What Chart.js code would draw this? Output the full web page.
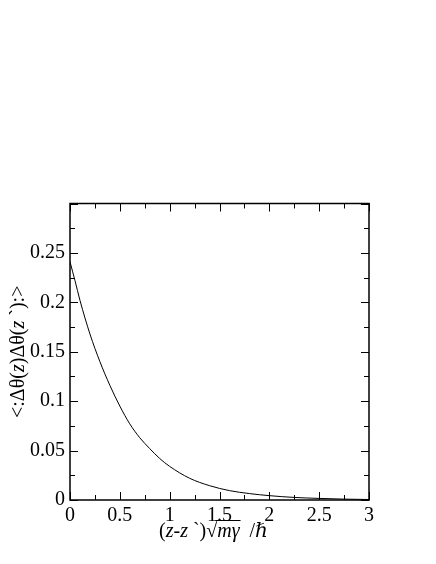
<!DOCTYPE html>
<html>
<head>
<meta charset="utf-8">
<script src="https://cdn.jsdelivr.net/npm/chart.js@4/dist/chart.umd.min.js"></script>
<style>
  html, body { margin: 0; padding: 0; background: #fff; }
  #wrap { width: 436px; height: 564px; }
</style>
</head>
<body>
<div id="wrap"><canvas id="myChart" width="436" height="564"></canvas></div>
<script>
// values
const zValues = [0, 0.05, 0.1, 0.2, 0.3, 0.4, 0.5, 0.6, 0.7, 0.8, 0.9, 1.0, 1.2, 1.4, 1.6, 1.8, 2.0, 2.25, 2.5, 2.75, 3.0];
const corrValues = [0.241, 0.222, 0.202, 0.168, 0.140, 0.116, 0.095, 0.077, 0.063, 0.052, 0.042, 0.034, 0.022, 0.0145, 0.0095, 0.0065, 0.0044, 0.0026, 0.0016, 0.0009, 0.0005];
const xTicks = [0, 0.5, 1, 1.5, 2, 2.5, 3];
const yTicks = [0, 0.05, 0.1, 0.15, 0.2, 0.25];

const serif = '"Liberation Serif", "DejaVu Serif", serif';

// draws frame, inward ticks (major + minor, all four sides) and the axis titles
const framePlugin = {
  id: 'frame',
  afterDraw(chart) {
    const ctx = chart.ctx;
    const a = chart.chartArea;
    const xs = chart.scales.x, ys = chart.scales.y;
    ctx.save();
    ctx.strokeStyle = '#000';
    ctx.lineWidth = 1;
    for (let v = 0; v <= 3.0001; v += 0.25) {
      const px = Math.round(xs.getPixelForValue(v)) + 0.5;
      const len = (Math.round(v * 4) % 2 === 0) ? 8 : 5;
      ctx.beginPath();
      ctx.moveTo(px, a.bottom); ctx.lineTo(px, a.bottom - len);
      ctx.moveTo(px, a.top); ctx.lineTo(px, a.top + len);
      ctx.stroke();
    }
    for (let v = 0; v <= 0.3001; v += 0.025) {
      const py = Math.round(ys.getPixelForValue(v)) + 0.5;
      const len = (Math.round(v * 40) % 2 === 0) ? 8 : 5;
      ctx.beginPath();
      ctx.moveTo(a.left, py); ctx.lineTo(a.left + len, py);
      ctx.moveTo(a.right, py); ctx.lineTo(a.right - len, py);
      ctx.stroke();
    }
    ctx.lineWidth = 1.5;
    ctx.strokeRect(a.left, a.top, a.right - a.left, a.bottom - a.top);

    // x title: (z-z`)√mγ /ℏ
    ctx.fillStyle = '#000';
    ctx.textBaseline = 'alphabetic';
    const parts = [
      ['(', ''], ['z', 'italic '], ['-', ''], ['z', 'italic '], [' `)√', ''], ['mγ', 'italic '], ['  /ℏ', '']
    ];
    let total = 0;
    parts.forEach(p => { ctx.font = p[1] + '20px ' + serif; total += ctx.measureText(p[0]).width; });
    let x = (a.left + a.right) / 2 - total / 2 - 6;
    const yb = 537;
    let mStart = 0, mEnd = 0;
    parts.forEach(p => {
      ctx.font = p[1] + '20px ' + serif;
      const w = ctx.measureText(p[0]).width;
      if (p[0] === 'mγ') { mStart = x; mEnd = x + w; }
      ctx.fillText(p[0], x, yb);
      x += w;
    });
    ctx.lineWidth = 1;
    ctx.beginPath();
    ctx.moveTo(mStart - 2, yb - 16.5); ctx.lineTo(mEnd + 1, yb - 16.5);
    ctx.stroke();

    // y title: <:Δθ(z)Δθ(z`):>
    ctx.translate(24, (a.top + a.bottom) / 2);
    ctx.rotate(-Math.PI / 2);
    const yparts = [['<:Δθ(', ''], ['z', 'italic '], [')Δθ(', ''], ['z', 'italic '], [' `):>', '']];
    total = 0;
    yparts.forEach(p => { ctx.font = p[1] + '20px ' + serif; total += ctx.measureText(p[0]).width; });
    x = -total / 2;
    yparts.forEach(p => {
      ctx.font = p[1] + '20px ' + serif;
      ctx.fillText(p[0], x, 0);
      x += ctx.measureText(p[0]).width;
    });
    ctx.restore();
  }
};

const ctx = document.getElementById('myChart');
const options = {
  type: 'line',
  data: {
    datasets: [{
      data: zValues.map((z, i) => ({ x: z, y: corrValues[i] })),
      borderColor: '#000',
      borderWidth: 1,
      pointRadius: 0,
      cubicInterpolationMode: 'monotone',
      fill: false
    }]
  },
  options: {
    responsive: false,
    animation: false,
    layout: { padding: { top: 203.5, right: 67, left: 0, bottom: 0 } },
    plugins: { legend: { display: false }, tooltip: { enabled: false } },
    scales: {
      x: {
        type: 'linear', min: 0, max: 3,
        afterFit(scale) { scale.height = 64; },
        afterBuildTicks(scale) { scale.ticks = xTicks.map(v => ({ value: v })); },
        grid: { display: false, drawTicks: false },
        border: { display: false },
        ticks: { color: '#000', padding: 4, maxRotation: 0, font: { family: serif, size: 20 },
          callback: v => String(v) }
      },
      y: {
        type: 'linear', min: 0, max: 0.3,
        afterFit(scale) { scale.width = 70; },
        afterBuildTicks(scale) { scale.ticks = yTicks.map(v => ({ value: v })); },
        grid: { display: false, drawTicks: false },
        border: { display: false },
        ticks: { color: '#000', padding: 5, font: { family: serif, size: 20 },
          callback: v => String(v) }
      }
    }
  },
  plugins: [framePlugin]
};
new Chart(ctx, options);
</script>
</body>
</html>
